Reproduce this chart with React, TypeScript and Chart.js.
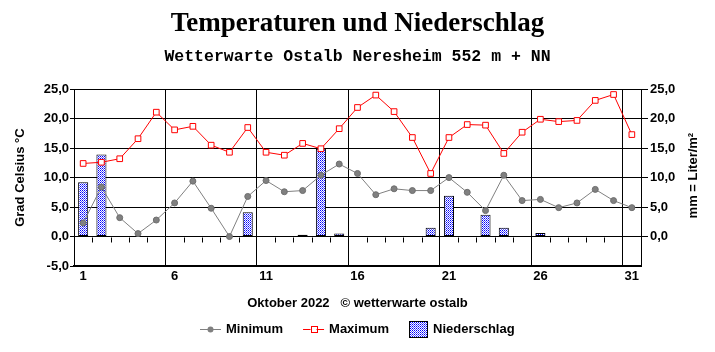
import React, { useEffect, useRef } from "react";
import { Chart, registerables } from "chart.js";

Chart.register(...registerables);

const days = ["1","2","3","4","5","6","7","8","9","10","11","12","13","14","15","16","17","18","19","20","21","22","23","24","25","26","27","28","29","30","31"];
const minTemp = [2.3, 8.4, 3.2, 0.5, 2.8, 5.7, 9.4, 4.8, 0.0, 6.8, 9.5, 7.6, 7.8, 10.4, 12.3, 10.7, 7.1, 8.1, 7.8, 7.8, 10.0, 7.5, 4.4, 10.4, 6.1, 6.3, 4.9, 5.7, 8.0, 6.1, 4.9];
const maxTemp = [12.4, 12.6, 13.2, 16.6, 21.1, 18.1, 18.7, 15.5, 14.3, 18.5, 14.3, 13.8, 15.8, 14.9, 18.3, 21.9, 24.0, 21.2, 16.8, 10.7, 16.8, 19.0, 18.9, 14.1, 17.7, 19.9, 19.5, 19.7, 23.1, 24.1, 17.3];
const precip = [9.2, 13.9, null, null, null, null, null, null, null, 4.1, null, null, 0.3, 14.9, 0.5, null, null, null, null, 1.5, 6.9, null, 3.7, 1.5, null, 0.6, null, null, null, null, null];

const TITLE = "Temperaturen und Niederschlag";
const SUBTITLE = "Wetterwarte Ostalb Neresheim 552 m + NN";
const X_TITLE = "Oktober 2022   \u00A9 wetterwarte ostalb";
const Y_TITLE = "Grad Celsius \u00B0C";
const Y1_TITLE = "mm = Liter/m\u00B2";

const SANS = "'Liberation Sans', Arial, sans-serif";
const fmt = (v: number) => v.toFixed(1).replace(".", ",");

function makePattern(): CanvasPattern | string {
  const c = document.createElement("canvas");
  c.width = 2;
  c.height = 2;
  const g = c.getContext("2d");
  if (!g) return "#0000ff";
  g.fillStyle = "#ffffff";
  g.fillRect(0, 0, 2, 2);
  g.fillStyle = "#0000ff";
  g.fillRect(0, 0, 1, 1);
  g.fillStyle = "#6060ff";
  g.fillRect(1, 1, 1, 1);
  const p = g.createPattern(c, "repeat");
  return p || "#0000ff";
}

export default function App() {
  const ref = useRef<HTMLCanvasElement | null>(null);

  useEffect(() => {
    document.body.style.margin = "0";
    const canvas = ref.current;
    if (!canvas) return;
    const pattern = makePattern();

    const extras = {
      id: "extras",
      beforeDatasetsDraw(chart: any) {
        const ctx = chart.ctx;
        const xs = chart.scales.x;
        const ys = chart.scales.y;
        const y0 = Math.round(ys.getPixelForValue(0)) + 0.5;
        ctx.save();
        ctx.strokeStyle = "#000";
        ctx.lineWidth = 1;
        ctx.beginPath();
        for (let i = 1; i < xs.ticks.length; i++) {
          if (i % 5 === 0) continue;
          const px = Math.round((xs.getPixelForTick(i - 1) + xs.getPixelForTick(i)) / 2) + 0.5;
          ctx.moveTo(px, y0);
          ctx.lineTo(px, y0 + 5);
        }
        ctx.stroke();
        ctx.restore();
      },
      afterDraw(chart: any) {
        const ctx = chart.ctx;
        const area = chart.chartArea;
        ctx.save();
        ctx.fillStyle = "#000";
        ctx.font = `bold 13px ${SANS}`;
        ctx.translate(chart.width - 22, (area.top + area.bottom) / 2 - 2);
        ctx.rotate(-Math.PI / 2);
        ctx.textAlign = "center";
        ctx.textBaseline = "middle";
        ctx.fillText(Y1_TITLE, 0, 0);
        ctx.restore();

        ctx.save();
        ctx.font = `bold 13px ${SANS}`;
        ctx.textBaseline = "middle";
        ctx.textAlign = "left";
        const ds = chart.data.datasets;
        const iconW = (d: any) => (d.type === "bar" ? 19 : 21);
        const gap = 5;
        const itemGap = 20;
        let total = 0;
        ds.forEach((d: any, i: number) => {
          total += iconW(d) + gap + ctx.measureText(d.label).width;
          if (i < ds.length - 1) total += itemGap;
        });
        let x = Math.round((chart.width - total) / 2);
        const yc = 329;
        ds.forEach((d: any) => {
          const w = iconW(d);
          if (d.type === "bar") {
            ctx.fillStyle = pattern as any;
            ctx.fillRect(x, yc - 8, w, 17);
            ctx.strokeStyle = "#000";
            ctx.lineWidth = 1;
            ctx.strokeRect(x + 0.5, yc - 7.5, w - 1, 16);
          } else {
            ctx.strokeStyle = d.borderColor;
            ctx.lineWidth = 1;
            ctx.beginPath();
            ctx.moveTo(x, Math.round(yc) + 0.5);
            ctx.lineTo(x + w, Math.round(yc) + 0.5);
            ctx.stroke();
            const cx = x + w / 2;
            if (d.pointStyle === "rect") {
              ctx.fillStyle = "#fff";
              ctx.fillRect(cx - 3, yc - 3, 6, 6);
              ctx.strokeStyle = d.borderColor;
              ctx.strokeRect(Math.round(cx - 3) + 0.5, Math.round(yc - 3) + 0.5, 6, 6);
            } else {
              ctx.fillStyle = d.pointBackgroundColor;
              ctx.beginPath();
              ctx.arc(cx, yc + 0.5, 3, 0, Math.PI * 2);
              ctx.fill();
            }
          }
          x += w + gap;
          ctx.fillStyle = "#000";
          ctx.fillText(d.label, x, yc);
          x += ctx.measureText(d.label).width + itemGap;
        });
        ctx.restore();
      },
    };

    const chart = new Chart(canvas, {
      type: "bar",
      data: {
        labels: days,
        datasets: [
          {
            type: "line",
            label: "Minimum",
            data: minTemp,
            yAxisID: "y",
            order: 1,
            borderColor: "#808080",
            borderWidth: 1,
            pointStyle: "circle",
            pointRadius: 3,
            pointBackgroundColor: "#808080",
            pointBorderColor: "#6e6e6e",
            pointBorderWidth: 1,
            tension: 0,
          } as any,
          {
            type: "line",
            label: "Maximum",
            data: maxTemp,
            yAxisID: "y",
            order: 2,
            borderColor: "#ff0000",
            borderWidth: 1,
            pointStyle: "rect",
            pointRadius: 4,
            pointBackgroundColor: "#ffffff",
            pointBorderColor: "#ff0000",
            pointBorderWidth: 1,
            tension: 0,
          } as any,
          {
            type: "bar",
            label: "Niederschlag",
            data: precip,
            yAxisID: "y1",
            order: 3,
            backgroundColor: pattern as any,
            borderColor: "#000000",
            borderWidth: 1,
            borderSkipped: false,
            barPercentage: 0.55,
            categoryPercentage: 1,
          } as any,
        ],
      },
      options: {
        animation: false,
        responsive: false,
        maintainAspectRatio: false,
        layout: { padding: { top: 0, left: 0, right: 0, bottom: 40 } },
        font: { family: SANS },
        plugins: {
          legend: { display: false },
          tooltip: { enabled: false },
          title: {
            display: true,
            text: TITLE,
            color: "#000",
            font: { family: "'Liberation Serif', 'Times New Roman', serif", size: 27, weight: "bold" },
            padding: { top: 8, bottom: 7 },
          },
          subtitle: {
            display: true,
            text: SUBTITLE,
            color: "#000",
            font: { family: "'Liberation Mono', 'Courier New', monospace", size: 16.5, weight: "bold" },
            padding: { top: 0, bottom: 22 },
          },
        },
        scales: {
          x: {
            type: "category",
            offset: true,
            grid: {
              offset: true,
              drawTicks: false,
              lineWidth: 1,
              color: (c: any) => (typeof c.index === "number" && c.index > 0 && c.index % 5 === 0 ? "#000" : "rgba(0,0,0,0)"),
            },
            border: { display: true, color: "#000", width: 2 },
            ticks: {
              autoSkip: false,
              maxRotation: 0,
              minRotation: 0,
              padding: 3,
              color: "#000",
              font: { family: SANS, size: 13, weight: "bold" },
              callback: (_v: any, i: number) => (i % 5 === 0 ? days[i] : ""),
            },
            title: {
              display: true,
              text: X_TITLE,
              color: "#000",
              font: { family: SANS, size: 13, weight: "bold" },
              padding: { top: 0, bottom: 1 },
            },
            afterFit: (s: any) => {
              s.height = 46;
            },
          },
          y: {
            position: "left",
            min: -5,
            max: 25,
            ticks: {
              stepSize: 5,
              padding: 1,
              color: "#000",
              font: { family: SANS, size: 13, weight: "bold" },
              callback: (v: any) => fmt(Number(v)),
            },
            grid: { color: "#000", lineWidth: 1, tickLength: 4 },
            border: { display: true, color: "#000", width: 1 },
            title: {
              display: true,
              text: Y_TITLE,
              color: "#000",
              font: { family: SANS, size: 13, weight: "bold" },
              padding: { top: 13, bottom: 0 },
            },
            afterFit: (s: any) => {
              s.width = 74;
            },
          },
          y1: {
            position: "right",
            min: -5,
            max: 25,
            ticks: {
              stepSize: 5,
              padding: 2,
              color: "#000",
              font: { family: SANS, size: 13, weight: "bold" },
              callback: (v: any) => (Number(v) < 0 ? "" : fmt(Number(v))),
            },
            grid: {
              drawOnChartArea: false,
              tickLength: 7,
              color: (c: any) => (c.tick && c.tick.value < 0 ? "rgba(0,0,0,0)" : "#000"),
            },
            border: { display: true, color: "#000", width: 1 },
            afterFit: (s: any) => {
              s.width = 74;
            },
          },
        },
      } as any,
      plugins: [extras as any],
    });

    return () => {
      chart.destroy();
    };
  }, []);

  return (
    <div style={{ position: "absolute", left: 0, top: 0, width: 715, height: 352, background: "#fff" }}>
      <canvas ref={ref} width={715} height={352} style={{ width: 715, height: 352, display: "block" }} />
    </div>
  );
}
